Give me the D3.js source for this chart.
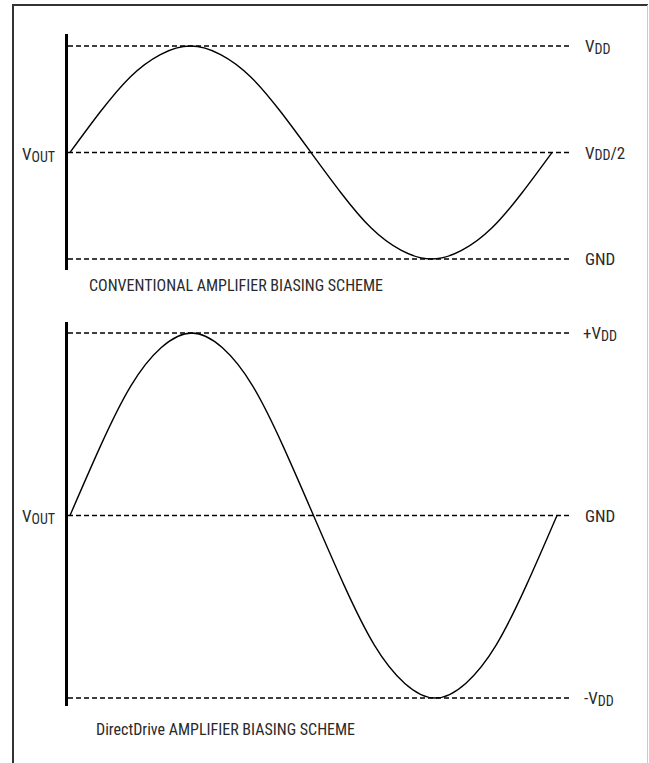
<!DOCTYPE html>
<html><head><meta charset="utf-8">
<script src="https://cdn.jsdelivr.net/npm/d3@7/dist/d3.min.js"></script>
<style>
body{margin:0;background:#fff;}
svg text{font-family:"Liberation Sans Narrow","Arial Narrow","Roboto Condensed","Liberation Sans",sans-serif;font-stretch:condensed;fill:#2a2a2a;}
</style></head><body>
<svg id="c" width="649" height="763"></svg>
<script>
// phase within one cycle and normalized output level
const phase = [0, 0.0625, 0.125, 0.1875, 0.25, 0.3125, 0.375, 0.4375, 0.5, 0.5625, 0.625, 0.6875, 0.75, 0.8125, 0.875, 0.9375, 1];
const level = [0, 0.38, 0.71, 0.92, 1, 0.92, 0.71, 0.38, 0, -0.38, -0.71, -0.92, -1, -0.92, -0.71, -0.38, 0];
const panelTitles = ["CONVENTIONAL AMPLIFIER BIASING SCHEME", "DirectDrive AMPLIFIER BIASING SCHEME"];
const refLevels = [1, 0, -1];
const refLabelsTop = [["V","DD",""], ["V","DD","/2"], ["GND","",""]];
const refLabelsBot = [["+V","DD",""], ["GND","",""], ["-V","DD",""]];

const svg = d3.select("#c");
// frame
svg.append("line").attr("x1",13).attr("x2",13).attr("y1",5).attr("y2",763).attr("stroke","#333").attr("stroke-width",2);
svg.append("line").attr("x1",12).attr("x2",648).attr("y1",5).attr("y2",5).attr("stroke","#333").attr("stroke-width",2);
svg.append("line").attr("x1",647.5).attr("x2",647.5).attr("y1",5).attr("y2",763).attr("stroke","#ccc").attr("stroke-width",1);

const panels = [
  {yTop:46, yBot:259, axisTop:34, axisBot:270, xEnd:552, labels:refLabelsTop, title:panelTitles[0], titleX:89, titleY:291, voutY:160, labelX:[585,585,585]},
  {yTop:333, yBot:698, axisTop:322, axisBot:706, xEnd:557, labels:refLabelsBot, title:panelTitles[1], titleX:96, titleY:735, voutY:522, labelX:[583,585,584]}
];

panels.forEach(p => {
  const g = svg.append("g");
  const x = d3.scaleLinear().domain([0,1]).range([70, p.xEnd]);
  const y = d3.scaleLinear().domain([-1,1]).range([p.yBot, p.yTop]);
  // reference dashed lines
  refLevels.forEach((lv,i) => {
    g.append("line").attr("x1",68).attr("x2",570).attr("y1",y(lv)).attr("y2",y(lv))
      .attr("stroke","#000").attr("stroke-width",1.3).attr("stroke-dasharray","5,3");
    const t = g.append("text").attr("x",p.labelX[i]).attr("y",y(lv)+6).attr("font-size",17);
    const [a,sub,c] = p.labels[i];
    t.append("tspan").text(a);
    if (sub) t.append("tspan").attr("font-size",14).attr("dy",1.5).text(sub);
    if (c) t.append("tspan").attr("dy",-1.5).text(c);
  });
  // vertical axis
  g.append("line").attr("x1",66.5).attr("x2",66.5).attr("y1",p.axisTop).attr("y2",p.axisBot)
    .attr("stroke","#000").attr("stroke-width",3);
  // waveform
  const wave = d3.line().x((d,i)=>x(phase[i])).y(d=>y(d)).curve(d3.curveNatural);
  g.append("path").attr("d", wave(level)).attr("fill","none").attr("stroke","#000").attr("stroke-width",1.4);
  // VOUT label
  const v = g.append("text").attr("x",22).attr("y",p.voutY).attr("font-size",17);
  v.append("tspan").text("V");
  v.append("tspan").attr("font-size",14).attr("dy",1.5).text("OUT");
  // title
  g.append("text").attr("x",p.titleX).attr("y",p.titleY).attr("font-size",16).text(p.title);
});
</script>
</body></html>
